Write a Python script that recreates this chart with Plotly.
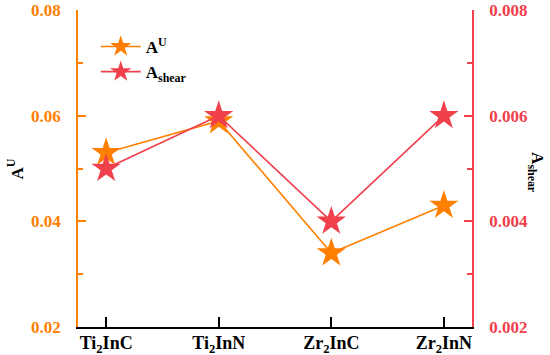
import plotly.graph_objects as go

categories = ["Ti<sub>2</sub>InC", "Ti<sub>2</sub>InN", "Zr<sub>2</sub>InC", "Zr<sub>2</sub>InN"]
a_u = [0.053, 0.059, 0.034, 0.043]
a_shear = [0.0050, 0.0060, 0.0040, 0.0060]
left_ticks = [0.02, 0.04, 0.06, 0.08]
right_ticks = [0.002, 0.004, 0.006, 0.008]

ORANGE = "#FF8000"
RED = "#F0404C"
FONT = "Liberation Serif"

x_idx = list(range(len(categories)))
x_half = [i + 0.5 for i in x_idx[:-1]]
x_range = [-0.25, 3.25]

fig = go.Figure()
fig.add_trace(go.Scatter(
    x=x_idx, y=a_u, name="A<sup>U</sup>", mode="lines+markers",
    line=dict(color=ORANGE, width=1.6),
    marker=dict(symbol="star", size=22, color=ORANGE, line=dict(width=0)),
))
fig.add_trace(go.Scatter(
    x=x_idx, y=a_shear, name="A<sub>shear</sub>", mode="lines+markers", yaxis="y2",
    line=dict(color=RED, width=1.6),
    marker=dict(symbol="star", size=22, color=RED, line=dict(width=0)),
))

fig.update_layout(
    width=550, height=355,
    margin=dict(l=78, r=78, t=10, b=28, autoexpand=False),
    paper_bgcolor="white", plot_bgcolor="white",
    font=dict(family=FONT, size=16, color="black", weight="bold"),
    showlegend=True,
    legend=dict(x=0.045, y=0.94, xanchor="left", yanchor="top", itemwidth=40,
                bgcolor="rgba(0,0,0,0)", font=dict(size=17, family=FONT, weight="bold")),
    xaxis=dict(
        range=x_range, tickmode="array", tickvals=x_idx, ticktext=categories,
        showgrid=False, zeroline=False, showline=True, linecolor="black", linewidth=1.5,
        ticks="inside", ticklen=10, tickwidth=1.5, tickcolor="black",
        tickfont=dict(family=FONT, size=18, color="black", weight="bold"),
        ticklabelstandoff=-1, automargin=False,
    ),
    xaxis2=dict(
        range=x_range, overlaying="x", side="top", tickmode="array", tickvals=x_idx,
        showticklabels=False,
        showgrid=False, zeroline=False, showline=True, linecolor="black", linewidth=1.5,
        ticks="inside", ticklen=10, tickwidth=1.5, tickcolor="black",
        minor=dict(tickvals=x_half, ticks="inside", ticklen=5, tickwidth=1.5, tickcolor="black"),
        automargin=False,
    ),
    yaxis=dict(
        range=[0.02, 0.08], tickmode="array", tickvals=left_ticks,
        ticktext=[f"{v:.2f}" for v in left_ticks],
        showgrid=False, zeroline=False, showline=True, linecolor=ORANGE, linewidth=1.5,
        ticks="inside", ticklen=8, tickwidth=1.5, tickcolor=ORANGE,
        minor=dict(tickvals=[0.03, 0.05, 0.07], ticks="inside", ticklen=5, tickwidth=1.5, tickcolor=ORANGE),
        tickfont=dict(family=FONT, size=17, color=ORANGE, weight="bold"),
        ticklabelstandoff=12, automargin=False,
    ),
    yaxis2=dict(
        range=[0.002, 0.008], overlaying="y", side="right", tickmode="array", tickvals=right_ticks,
        ticktext=[f"{v:.3f}" for v in right_ticks],
        showgrid=False, zeroline=False, showline=True, linecolor=RED, linewidth=1.5,
        ticks="inside", ticklen=8, tickwidth=1.5, tickcolor=RED,
        minor=dict(tickvals=[0.003, 0.005, 0.007], ticks="inside", ticklen=5, tickwidth=1.5, tickcolor=RED),
        tickfont=dict(family=FONT, size=17, color=RED, weight="bold"),
        ticklabelstandoff=12, automargin=False,
    ),
)

fig.add_annotation(
    text="A<sup>U</sup>", xref="paper", yref="paper", x=-0.16, y=0.50,
    xanchor="center", yanchor="middle",
    showarrow=False, textangle=-90, font=dict(family=FONT, size=17, color="black", weight="bold"),
)
fig.add_annotation(
    text="A<sub>shear</sub>", xref="paper", yref="paper", x=1.162, y=0.486,
    xanchor="center", yanchor="middle",
    showarrow=False, textangle=90, font=dict(family=FONT, size=17, color="black", weight="bold"),
)

fig.write_html(
    "out.html",
    config={"displayModeBar": False},
    post_script="document.body.style.margin='0';document.body.style.overflow='hidden';",
)
